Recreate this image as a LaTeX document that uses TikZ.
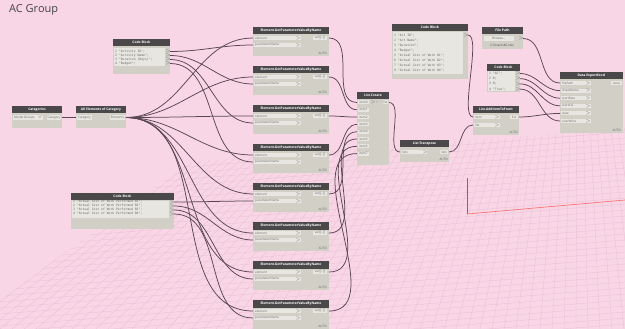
\documentclass[tikz,border=0pt]{standalone}
\usepackage{fontspec}
\setmainfont{Open Sans}
\setsansfont{Open Sans}
\setmonofont{DejaVu Sans Mono}
\usetikzlibrary{calc}
\definecolor{bgc}{HTML}{F8D6E6}
\definecolor{gridc}{HTML}{E9BFD3}
\definecolor{hdrc}{HTML}{4A4848}
\definecolor{bodyc}{HTML}{D2CFC7}
\definecolor{fieldc}{HTML}{E8E6E1}
\definecolor{wirec}{HTML}{5A4653}
\definecolor{titlec}{HTML}{444444}
\definecolor{lblc}{HTML}{6A6A6A}
\newcommand{\tf}{\fontsize{3.1}{3.5}\selectfont}
\newcommand{\hf}{\bfseries\fontsize{3.3}{3.6}\selectfont}
\tikzset{
  hdr/.style={fill=hdrc, text=white, inner sep=0pt, font=\hf, anchor=center},
  fld/.style={fill=fieldc},
  lbl/.style={inner sep=0pt, text=lblc, font=\tf},
  code/.style={inner sep=0pt, text=lblc, font=\ttfamily\tf, anchor=west},
  wire/.style={draw=wirec, line width=0.75pt},
  gline/.style={draw=gridc, line width=0.3pt}
}
% generic header + body
\newcommand{\dbox}[6]{% name, x, y, w, h, title
  \fill[bodyc] (#2,#3) rectangle ++(#4,#5);
  \node[hdr, minimum width=#4pt, minimum height=7.5pt] (#1) at ($(#2,#3)+(#4/2,3.75)$) {#6};
}
\newcommand{\gpnode}[3]{% name, x, y
  \dbox{#1}{#2}{#3}{76}{29}{Element.GetParameterValueByName}
  \fill[fld] ($(#2,#3)+(1,9)$) rectangle ++(47,4);
  \fill[fld] ($(#2,#3)+(1,16)$) rectangle ++(47,4);
  \fill[fld] ($(#2,#3)+(60,9)$) rectangle ++(14,4);
  \node[lbl, anchor=west] at ($(#2,#3)+(2,11)$) {element};
  \node[lbl, anchor=west] at ($(#2,#3)+(2,18)$) {parameterName};
  \node[lbl] at ($(#2,#3)+(45,11)$) {$\scriptscriptstyle>$};
  \node[lbl] at ($(#2,#3)+(45,18)$) {$\scriptscriptstyle>$};
  \node[lbl] at ($(#2,#3)+(67,11)$) {var[]..[]};
  \node[lbl, anchor=east] at ($(#2,#3)+(74,26)$) {AUTO};
  \coordinate (#1-el) at ($(#2,#3)+(0,11)$);
  \coordinate (#1-pn) at ($(#2,#3)+(0,18)$);
  \coordinate (#1-out) at ($(#2,#3)+(76,11)$);
}
\begin{document}
\begin{tikzpicture}[x=1pt,y=-1pt]
\useasboundingbox (0,0) rectangle (625,329);
\fill[bgc] (0,0) rectangle (625,329);
% perspective floor grid
\begin{scope}
  \clip (0,300) -- (190,162) -- (625,128) -- (625,329) -- (0,329) -- cycle;
  \foreach \k in {0,...,45} {
    \draw[gline] (0,{140+\k*6}) -- (625,{90+\k*6});
  }
  \foreach \k in {-30,...,70} {
    \draw[gline] ({\k*12},329) -- ({\k*12*0.55+260},120);
  }
\end{scope}
% axes
\coordinate (ax0) at (467,214);
\coordinate (axz) at (467,178);
\coordinate (axx) at (625,200);
\draw[draw=violet!70, line width=0.6pt] (ax0) -- (axz);
\draw[draw=red!60, line width=0.6pt] (ax0) -- (axx);
% title
\node[anchor=west, inner sep=0pt, text=titlec, font=\fontsize{11}{12}\selectfont] (title) at (9,10) {AC Group};

% Categories
\dbox{cat}{12}{106}{50}{22}{Categories}
\fill[fld] (13,115) rectangle ++(30,5);
\node[lbl, anchor=west] at (14,117.5) {Model Groups};
\node[lbl] at (40,117.5) {$\scriptscriptstyle\vee$};
\fill[fld] (47,115) rectangle ++(14,5);
\node[lbl] at (54,117.5) {Category};
\coordinate (cat-out) at (62,117.5);
% All Elements of Category
\dbox{ael}{76}{106}{50}{22}{All Elements of Category}
\fill[fld] (77,115) rectangle ++(15,5);
\node[lbl] at (84.5,117.5) {Category};
\fill[fld] (110,115) rectangle ++(15,5);
\node[lbl] at (117.5,117.5) {Elements};
\coordinate (ael-in) at (76,117.5);
\coordinate (ael-out) at (126,117.5);

% Code Block 1
\dbox{cb1}{113}{39}{57}{35}{Code Block}
\fill[fld] (114,48) rectangle ++(51,18);
\foreach \t [count=\i] in {{"Activity ID";},{"Activity Name";},{"Duration (Days)";},{"Budget";}} {
  \node[code] at (115,{47.5+\i*4}) {\i\ \t};
  \node[lbl] at (168,{47.5+\i*4}) {$\scriptscriptstyle>$};
  \coordinate (cb1-o\i) at (170,{47.5+\i*4});
}
% Code Block 2
\dbox{cb2}{71}{193}{103}{36}{Code Block}
\fill[fld] (72,201) rectangle ++(97,17);
\foreach \i in {1,...,4} {
  \node[code] at (73,{198+\i*4}) {\i\ "Actual Cost of Work Performed 0\i";};
  \node[lbl] at (172,{198+\i*4}) {$\scriptscriptstyle>$};
  \coordinate (cb2-o\i) at (174,{198+\i*4});
}

% GetParameterValueByName nodes
\foreach \i in {1,...,8} {
  \pgfmathsetmacro{\yy}{27+(\i-1)*39}
  \gpnode{gp\i}{253}{\yy}
}

% List Create
\dbox{lc}{357}{92}{32}{73}{List.Create}
\foreach \i in {0,...,7} {
  \fill[fld] (358,{100.5+\i*7.3}) rectangle ++(11,4);
  \node[lbl] at (363.5,{102.5+\i*7.3}) {item\i};
  \coordinate (lc-i\i) at (357,{102.5+\i*7.3});
}
\node[lbl] at (373,102.5) {$\scriptscriptstyle>$};
\node[lbl] at (377,102.5) {+};
\node[lbl] at (381,102.5) {-};
\fill[fld] (383,100.5) rectangle ++(5,4);
\node[lbl] at (385.5,102.5) {list};
\coordinate (lc-out) at (389,102.5);

% List Transpose
\dbox{lt}{400}{140}{49}{22}{List.Transpose}
\fill[fld] (401,150) rectangle ++(26,4);
\node[lbl, anchor=west] at (402,152) {lists};
\node[lbl] at (425,152) {$\scriptscriptstyle>$};
\fill[fld] (440,150) rectangle ++(8,4);
\node[lbl] at (444,152) {lists};
\node[lbl, anchor=east] at (448,159) {AUTO};
\coordinate (lt-in) at (400,152);
\coordinate (lt-out) at (449,152);

% Code Block 3
\dbox{cb3}{392}{24}{76}{55}{Code Block}
\fill[fld] (393,32) rectangle ++(70,42);
\foreach \t [count=\i] in {{"Act ID";},{"Act Name";},{"Duration";},{"Budget";},{"Actual Cost of Work 01";},{"Actual Cost of Work 02";},{"Actual Cost of Work 03";},{"Actual Cost of Work 04";}} {
  \node[code] at (394,{30.5+\i*5}) {\i\ \t};
}
\node[lbl] at (466,35) {$\scriptscriptstyle>$};
\coordinate (cb3-out) at (468,35);

% File Path
\dbox{fp}{482}{27}{41}{22}{File Path}
\fill[fld] (484,36) rectangle ++(30,5);
\node[lbl] at (499,38.5) {Browse...};
\node[lbl] at (521,38.5) {$\scriptscriptstyle>$};
\node[lbl, text=titlec] at (502,45.5) {C:\textbackslash Users\textbackslash AC.xlsx};
\coordinate (fp-out) at (523,38.5);

% Code Block 4
\dbox{cb4}{487}{64}{33}{28}{Code Block}
\fill[fld] (488,71) rectangle ++(27,20);
\foreach \t [count=\i] in {{"AC";},{0;},{0;},{"True";}} {
  \node[code] at (489,{68.3+\i*5.2}) {\i\ \t};
  \node[lbl] at (518,{68.3+\i*5.2}) {$\scriptscriptstyle>$};
  \coordinate (cb4-o\i) at (520,{68.3+\i*5.2});
}

% List.AddItemToFront
\dbox{aif}{473}{106}{46}{29}{List.AddItemToFront}
\fill[fld] (474,115) rectangle ++(26,4);
\fill[fld] (474,123) rectangle ++(26,4);
\node[lbl, anchor=west] at (475,117) {item};
\node[lbl, anchor=west] at (475,125) {list};
\node[lbl] at (497,117) {$\scriptscriptstyle>$};
\node[lbl] at (497,125) {$\scriptscriptstyle>$};
\fill[fld] (510,115) rectangle ++(8,4);
\node[lbl] at (514,117) {list};
\node[lbl, anchor=east] at (518,132) {AUTO};
\coordinate (aif-item) at (473,117);
\coordinate (aif-list) at (473,125);
\coordinate (aif-out) at (519,117);

% Data.ExportExcel
\dbox{xl}{560}{72}{63}{61}{Data.ExportExcel}
\foreach \t [count=\i] in {filePath,sheetName,startRow,startCol,data,overWrite} {
  \fill[fld] (561,{81+(\i-1)*7.6}) rectangle ++(30,4);
  \node[lbl, anchor=west] at (562,{83+(\i-1)*7.6}) {\t};
  \node[lbl] at (588,{83+(\i-1)*7.6}) {$\scriptscriptstyle>$};
  \coordinate (xl-i\i) at (560,{83+(\i-1)*7.6});
}
\fill[fld] (611,81) rectangle ++(11,4);
\node[lbl] at (616.5,83) {data};
\node[lbl, anchor=east] at (621,130) {AUTO};

% ---------- wires ----------
\draw[wire] (cat-out) -- (ael-in);
\foreach \i in {1,...,8} {
  \draw[wire] (ael-out) to[out=0,in=180] (gp\i-el);
}
\foreach \i in {1,...,4} {
  \draw[wire] (cb1-o\i) to[out=0,in=180] (gp\i-pn);
}
\foreach \i [evaluate=\i as \j using int(\i+4)] in {1,...,4} {
  \draw[wire] (cb2-o\i) to[out=0,in=180] (gp\j-pn);
}
\foreach \i [evaluate=\i as \j using int(\i-1)] in {1,...,8} {
  \draw[wire] (gp\i-out) to[out=0,in=180] (lc-i\j);
}
\draw[wire] (lc-out) .. controls +(15,0) and +(-15,0) .. (lt-in);
\draw[wire] (lt-out) .. controls +(14,0) and +(-14,0) .. (aif-list);
\draw[wire] (cb3-out) .. controls +(14,0) and +(-14,0) .. (aif-item);
\draw[wire] (fp-out) to[out=0,in=180] (xl-i1);
\draw[wire] (cb4-o1) to[out=0,in=180] (xl-i2);
\draw[wire] (cb4-o2) to[out=0,in=180] (xl-i3);
\draw[wire] (cb4-o3) to[out=0,in=180] (xl-i4);
\draw[wire] (cb4-o4) to[out=0,in=180] (xl-i6);
\draw[wire] (aif-out) to[out=0,in=180] (xl-i5);
\end{tikzpicture}
\end{document}
